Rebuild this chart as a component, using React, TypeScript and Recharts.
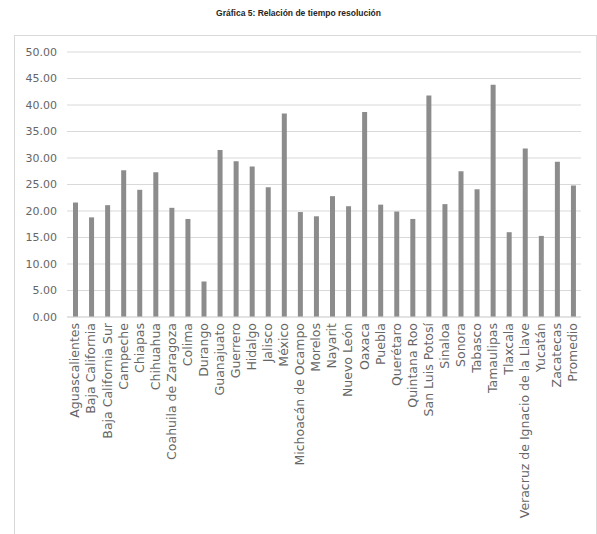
import { Bar, BarChart, CartesianGrid, XAxis, YAxis } from "recharts";

const estados = [
  "Aguascalientes",
  "Baja California",
  "Baja California Sur",
  "Campeche",
  "Chiapas",
  "Chihuahua",
  "Coahuila de Zaragoza",
  "Colima",
  "Durango",
  "Guanajuato",
  "Guerrero",
  "Hidalgo",
  "Jalisco",
  "México",
  "Michoacán de Ocampo",
  "Morelos",
  "Nayarit",
  "Nuevo León",
  "Oaxaca",
  "Puebla",
  "Querétaro",
  "Quintana Roo",
  "San Luis Potosí",
  "Sinaloa",
  "Sonora",
  "Tabasco",
  "Tamaulipas",
  "Tlaxcala",
  "Veracruz de Ignacio de la Llave",
  "Yucatán",
  "Zacatecas",
  "Promedio",
];

const tiempos = [
  21.6, 18.8, 21.1, 27.7, 24.0, 27.3, 20.6, 18.5, 6.7, 31.5, 29.4, 28.4, 24.5, 38.4, 19.8, 19.0,
  22.8, 20.9, 38.7, 21.2, 19.9, 18.5, 41.8, 21.3, 27.5, 24.1, 43.8, 16.0, 31.8, 15.3, 29.3, 24.8,
];

const yTicks = [0, 5, 10, 15, 20, 25, 30, 35, 40, 45, 50];

const data = estados.map((estado, i) => ({ estado, valor: tiempos[i] }));

const FONT = "'DejaVu Sans', sans-serif";
const TEXT_GREY = "#666666";
const GRID_GREY = "#d9d9d9";

const RotatedTick = ({ x, y, payload }: any) => (
  <text
    x={x}
    y={y}
    transform={`rotate(-90, ${x}, ${y})`}
    textAnchor="end"
    dy="0.35em"
    fontSize={12.5}
    fontFamily={FONT}
    fill={TEXT_GREY}
  >
    {payload.value}
  </text>
);

export default function App() {
  return (
    <div style={{ position: "absolute", left: 0, top: 0, width: 597, height: 534, background: "#fff", overflow: "hidden" }}>
      <div
        style={{
          position: "absolute",
          left: 0,
          top: 8,
          width: 597,
          textAlign: "center",
          fontFamily: "'Liberation Sans', sans-serif",
          fontWeight: "bold",
          fontSize: 8.5,
          color: "#262626",
        }}
      >
        Gráfica 5: Relación de tiempo resolución
      </div>
      <div
        style={{
          position: "absolute",
          left: 14,
          top: 35,
          width: 581,
          height: 520,
          borderLeft: `1px solid ${GRID_GREY}`,
          borderTop: `1px solid ${GRID_GREY}`,
          borderRight: `1px solid ${GRID_GREY}`,
        }}
      />
      <div style={{ position: "absolute", left: 0, top: 0 }}>
        <BarChart width={597} height={534} data={data} margin={{ top: 52, right: 16, left: 0, bottom: 0 }}>
          <CartesianGrid vertical={false} stroke={GRID_GREY} />
          <XAxis
            dataKey="estado"
            interval={0}
            height={217}
            axisLine={{ stroke: GRID_GREY }}
            tickLine={false}
            tickSize={0}
            tickMargin={6}
            tick={<RotatedTick />}
          />
          <YAxis
            width={67}
            domain={[0, 50]}
            ticks={yTicks}
            axisLine={false}
            tickLine={false}
            tickMargin={4}
            tickFormatter={(v: number) => v.toFixed(2)}
            tick={{ fontSize: 11, fontFamily: FONT, fill: TEXT_GREY }}
          />
          <Bar dataKey="valor" fill="#8c8c8c" barSize={5} isAnimationActive={false} />
        </BarChart>
      </div>
    </div>
  );
}
